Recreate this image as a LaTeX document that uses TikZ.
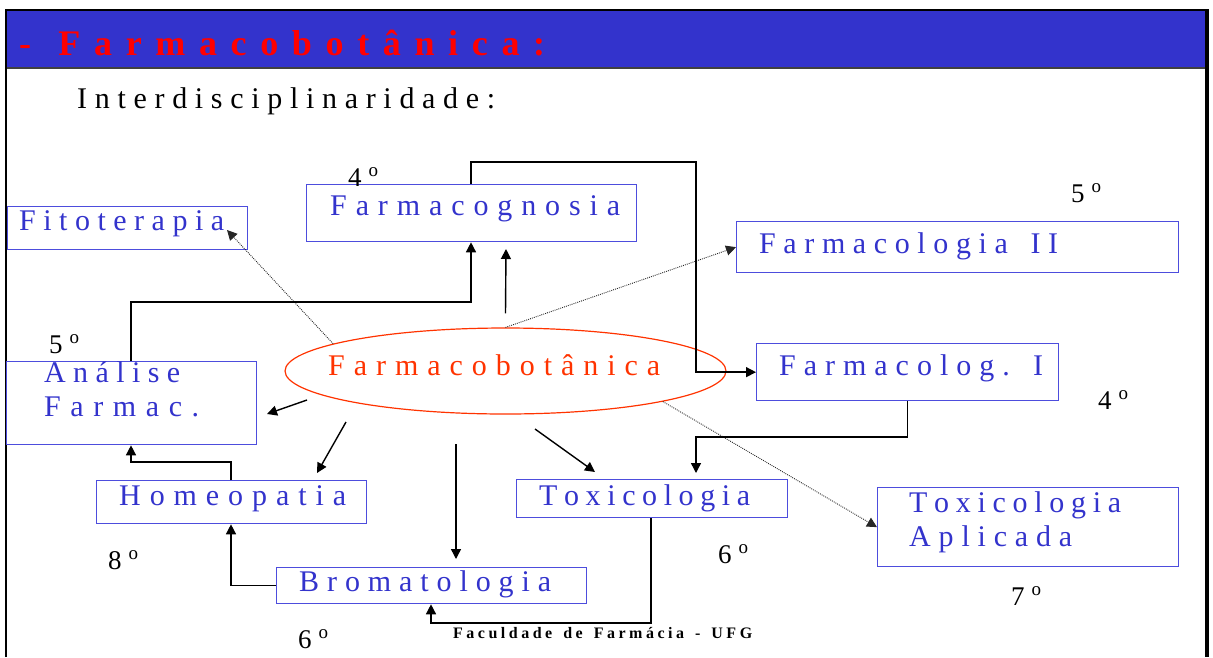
\documentclass[tikz,border=0pt]{standalone}
\usepackage{fontspec}
\setmainfont{Liberation Serif}
\usetikzlibrary{arrows.meta,shapes.geometric}

\definecolor{barblue}{RGB}{51,51,204}
\definecolor{titlered}{RGB}{255,0,0}
\definecolor{boxline}{RGB}{77,77,221}
\definecolor{boxtext}{RGB}{51,51,204}
\definecolor{ellred}{RGB}{255,51,0}

% spread the letters of #2 evenly over a width of #1
\ExplSyntaxOn
\NewDocumentCommand\spread{mm}{\makebox[#1][s]{\tl_map_inline:nn{#2}{##1\hfil}\unskip}}
\ExplSyntaxOff
% semester label: digit with a raised small o
\newcommand\ordn[1]{\spread{30pt}{#1{\raisebox{10pt}{\fontsize{19}{19}\selectfont o}}}}

\begin{document}
\begin{tikzpicture}[x=1pt,y=-1pt,
  txt/.style={inner sep=0, anchor=base west},
  btxt/.style={txt, text=boxtext, font=\fontsize{30}{36}\selectfont},
  ordlab/.style={txt, font=\fontsize{27}{30}\selectfont},
  cbox/.style={draw=boxline, line width=1.3pt, inner sep=0, anchor=north west},
  link/.style={draw=black, line width=1.4pt, -{Triangle[length=10pt,width=10pt]}},
  dotlink/.style={draw=black!85, line width=0.9pt, dash pattern=on 0.9pt off 1.1pt,
                  -{Triangle[length=10pt,width=10pt]}}]
\useasboundingbox (0,0) rectangle (1213,657);

% slide frame and title bar
\fill[barblue] (7,11) rectangle (1205,68);
\draw[line width=1.2pt, black!75] (7,68) -- (1205,68);
\draw[line width=2pt] (6,657) -- (6,10) -- (1207,10);
\draw[line width=4pt] (1207,9) -- (1207,657);

\node[txt, text=titlered, font=\bfseries\fontsize{36}{40}\selectfont] (title) at (19,55)
  {\spread{526pt}{-{}Farmacobotânica:}};
\node[txt, font=\fontsize{30}{36}\selectfont] (inter) at (77,108)
  {\spread{418pt}{Interdisciplinaridade:}};

% central subject
\node[ellipse, draw=ellred, line width=1.2pt, minimum width=441pt, minimum height=86pt,
      inner sep=0] (ell) at (505.5,371) {};
\node[txt, text=ellred, font=\fontsize{30}{36}\selectfont] (ellT) at (328,375)
  {\spread{332pt}{Farmacobotânica}};

% related disciplines
\node[cbox, minimum width=240pt, minimum height=43pt] (fito)  at (7,206) {};
\node[cbox, minimum width=330pt, minimum height=57pt] (cogn)  at (306,184) {};
\node[cbox, minimum width=442pt, minimum height=51pt] (farm2) at (736,221) {};
\node[cbox, minimum width=302pt, minimum height=57pt] (farm1) at (756,343) {};
\node[cbox, minimum width=250pt, minimum height=83pt] (anal)  at (6,361) {};
\node[cbox, minimum width=270pt, minimum height=43pt] (homeo) at (96,480) {};
\node[cbox, minimum width=310pt, minimum height=36pt] (broma) at (276,567) {};
\node[cbox, minimum width=271pt, minimum height=38pt] (toxi)  at (516,479) {};
\node[cbox, minimum width=301pt, minimum height=79pt] (toxap) at (877,487) {};

\node[btxt] (fitoT)   at (19,230)  {\spread{205pt}{Fitoterapia}};
\node[btxt] (cognT)   at (330,215) {\spread{290pt}{Farmacognosia}};
\node[btxt] (farm2T)  at (759,253) {\spread{299pt}{Farmacologia~II}};
\node[btxt] (farm1T)  at (779,375) {\spread{264pt}{Farmacolog.~I}};
\node[btxt] (analT1)  at (44,382)  {\spread{136pt}{Análise}};
\node[btxt] (analT2)  at (44,416)  {\spread{155pt}{Farmac.}};
\node[btxt] (homeoT)  at (119,505) {\spread{227pt}{Homeopatia}};
\node[btxt] (bromaT)  at (299,591) {\spread{252pt}{Bromatologia}};
\node[btxt] (toxiT)   at (539,505) {\spread{211pt}{Toxicologia}};
\node[btxt] (toxapT1) at (909,512) {\spread{212pt}{Toxicologia}};
\node[btxt] (toxapT2) at (909,546) {\spread{163pt}{Aplicada}};

% semesters
\node[ordlab] (s1) at (348,186)  {\ordn{4}};
\node[ordlab] (s2) at (1071,202) {\ordn{5}};
\node[ordlab] (s3) at (49,353)   {\ordn{5}};
\node[ordlab] (s4) at (1098,409) {\ordn{4}};
\node[ordlab] (s5) at (108,569)  {\ordn{8}};
\node[ordlab] (s6) at (718,563)  {\ordn{6}};
\node[ordlab] (s7) at (1011,605) {\ordn{7}};
\node[ordlab] (s8) at (298,648)  {\ordn{6}};

\node[txt, font=\bfseries\fontsize{16}{18}\selectfont] (foot) at (453,638)
  {\spread{299pt}{Faculdade~de~Farmácia~-~UFG}};

% free arrow ends around the ellipse
\coordinate (r1s) at (307,400); \coordinate (r1e) at (267,414);
\coordinate (r2s) at (346,422); \coordinate (r2e) at (317,473);
\coordinate (r3s) at (456,444); \coordinate (r3e) at (456,559);
\coordinate (r4s) at (535,429); \coordinate (r4e) at (595,472);
\coordinate (r5e) at (506,249);
\coordinate (fitoTip) at (227,230);

% radial arrows
\draw[link] ([yshift=14pt]ell.north) -- (r5e);
\draw[link] (r1s) -- (r1e);
\draw[link] (r2s) -- (r2e);
\draw[link] (r3s) -- (r3e);
\draw[link] (r4s) -- (r4e);

% dotted arrows
\draw[dotlink] (ell.171) -- (fitoTip);
\draw[dotlink] (ell.north) -- (farm2.west);
\draw[dotlink] (ell.-11) -- (toxap.west);

% elbow connectors
\draw[link] ([xshift=165pt]cogn.north west) |- (696,162) |- (farm1.west);
\draw[link] ([xshift=125pt]anal.north west) |- (471,302) -- ([xshift=165pt]cogn.south west);
\draw[link, shorten >=6pt] (farm1.south) |- (696,437) -- ([xshift=180pt]toxi.north west);
\draw[link] ([xshift=135pt]homeo.north west) |- (131,462) -- ([xshift=125pt]anal.south west);
\draw[link] (broma.west) -| ([xshift=135pt]homeo.south west);
\draw[link] ([xshift=135pt]toxi.south west) |- (431,623) -- ([xshift=155pt]broma.south west);
\end{tikzpicture}
\end{document}
